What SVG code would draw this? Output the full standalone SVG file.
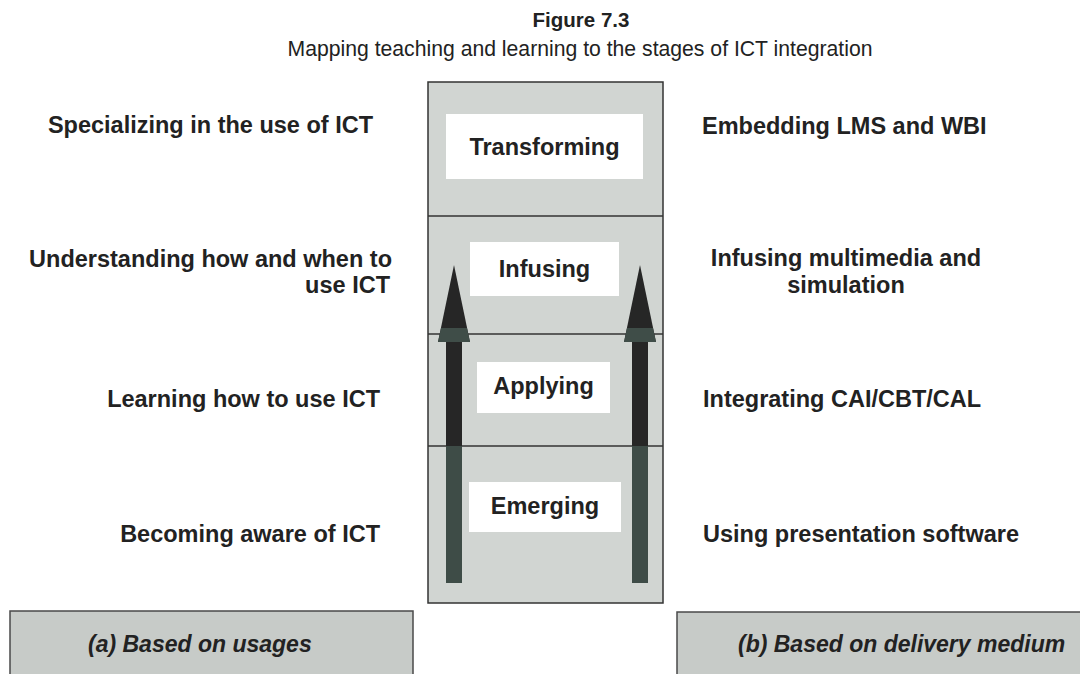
<svg xmlns="http://www.w3.org/2000/svg" width="1080" height="674" viewBox="0 0 1080 674">
<style>
.lbl{font-family:"Liberation Sans",Arial,sans-serif;font-weight:bold;font-size:23.5px;fill:#222}
.stage{font-family:"Liberation Sans",Arial,sans-serif;font-weight:bold;font-size:23.5px;fill:#222;text-anchor:middle}
.box{fill:#fff}
.foot{fill:#c7cbc8;stroke:#4a4a4a;stroke-width:1.5}
.foottxt{font-family:"Liberation Sans",Arial,sans-serif;font-weight:bold;font-style:italic;font-size:23px;fill:#222}
.head{fill:#262626}
.headlow{fill:#3f4d48}
.shaftdark{fill:#262626}
.shaftlow{fill:#3e4c47}
</style>
<rect width="1080" height="674" fill="#fff"/>
<g id="title">
<text x="581" y="27" text-anchor="middle" font-family="Liberation Sans, Arial, sans-serif" font-weight="bold" font-size="20.5" fill="#222">Figure 7.3</text>
<text x="580" y="56" text-anchor="middle" font-family="Liberation Sans, Arial, sans-serif" font-size="21.2" fill="#222">Mapping teaching and learning to the stages of ICT integration</text>
</g>
<g id="column">
<rect x="428" y="82" width="235" height="521" fill="#d1d5d2" stroke="#333" stroke-width="1.5"/>
<line x1="428" y1="216" x2="663" y2="216" stroke="#333" stroke-width="1.5"/>
<line x1="428" y1="334" x2="663" y2="334" stroke="#333" stroke-width="1.5"/>
<line x1="428" y1="446" x2="663" y2="446" stroke="#333" stroke-width="1.5"/>
</g>
<g id="connectors">
<rect class="shaftdark" x="446" y="340" width="16" height="106"/>
<rect class="shaftlow" x="446" y="446" width="16" height="137"/>
<polygon class="head" points="454,265 438,342 470,342"/>
<polygon class="headlow" points="441,328 467,328 470,342 438,342"/>
<rect class="shaftdark" x="632" y="340" width="16" height="106"/>
<rect class="shaftlow" x="632" y="446" width="16" height="137"/>
<polygon class="head" points="640,265 624,342 656,342"/>
<polygon class="headlow" points="627,328 653,328 656,342 624,342"/>
</g>
<g id="transforming">
<rect class="box" x="446" y="114" width="197" height="65"/>
<text class="stage" x="544.5" y="155">Transforming</text>
</g>
<g id="infusing">
<rect class="box" x="470" y="242" width="149" height="54"/>
<text class="stage" x="544.5" y="277">Infusing</text>
</g>
<g id="applying">
<rect class="box" x="477" y="362" width="133" height="51"/>
<text class="stage" x="543.5" y="394">Applying</text>
</g>
<g id="emerging">
<rect class="box" x="469" y="482" width="152" height="50"/>
<text class="stage" x="545" y="514">Emerging</text>
</g>
<g id="left-labels">
<text class="lbl" x="373" y="133" text-anchor="end">Specializing in the use of ICT</text>
<text class="lbl" x="392" y="267" text-anchor="end">Understanding how and when to</text>
<text class="lbl" x="390" y="293" text-anchor="end">use ICT</text>
<text class="lbl" x="380" y="407" text-anchor="end">Learning how to use ICT</text>
<text class="lbl" x="380" y="542" text-anchor="end">Becoming aware of ICT</text>
</g>
<g id="right-labels">
<text class="lbl" x="702" y="134">Embedding LMS and WBI</text>
<text class="lbl" x="846" y="266" text-anchor="middle">Infusing multimedia and</text>
<text class="lbl" x="846" y="293" text-anchor="middle">simulation</text>
<text class="lbl" x="703" y="407">Integrating CAI/CBT/CAL</text>
<text class="lbl" x="703" y="542">Using presentation software</text>
</g>
<g id="footer-a">
<rect class="foot" x="10" y="611" width="403" height="80"/>
<text class="foottxt" x="88" y="652">(a) Based on usages</text>
</g>
<g id="footer-b">
<rect class="foot" x="677" y="612" width="420" height="80"/>
<text class="foottxt" x="738" y="652">(b) Based on delivery medium</text>
</g>
</svg>
